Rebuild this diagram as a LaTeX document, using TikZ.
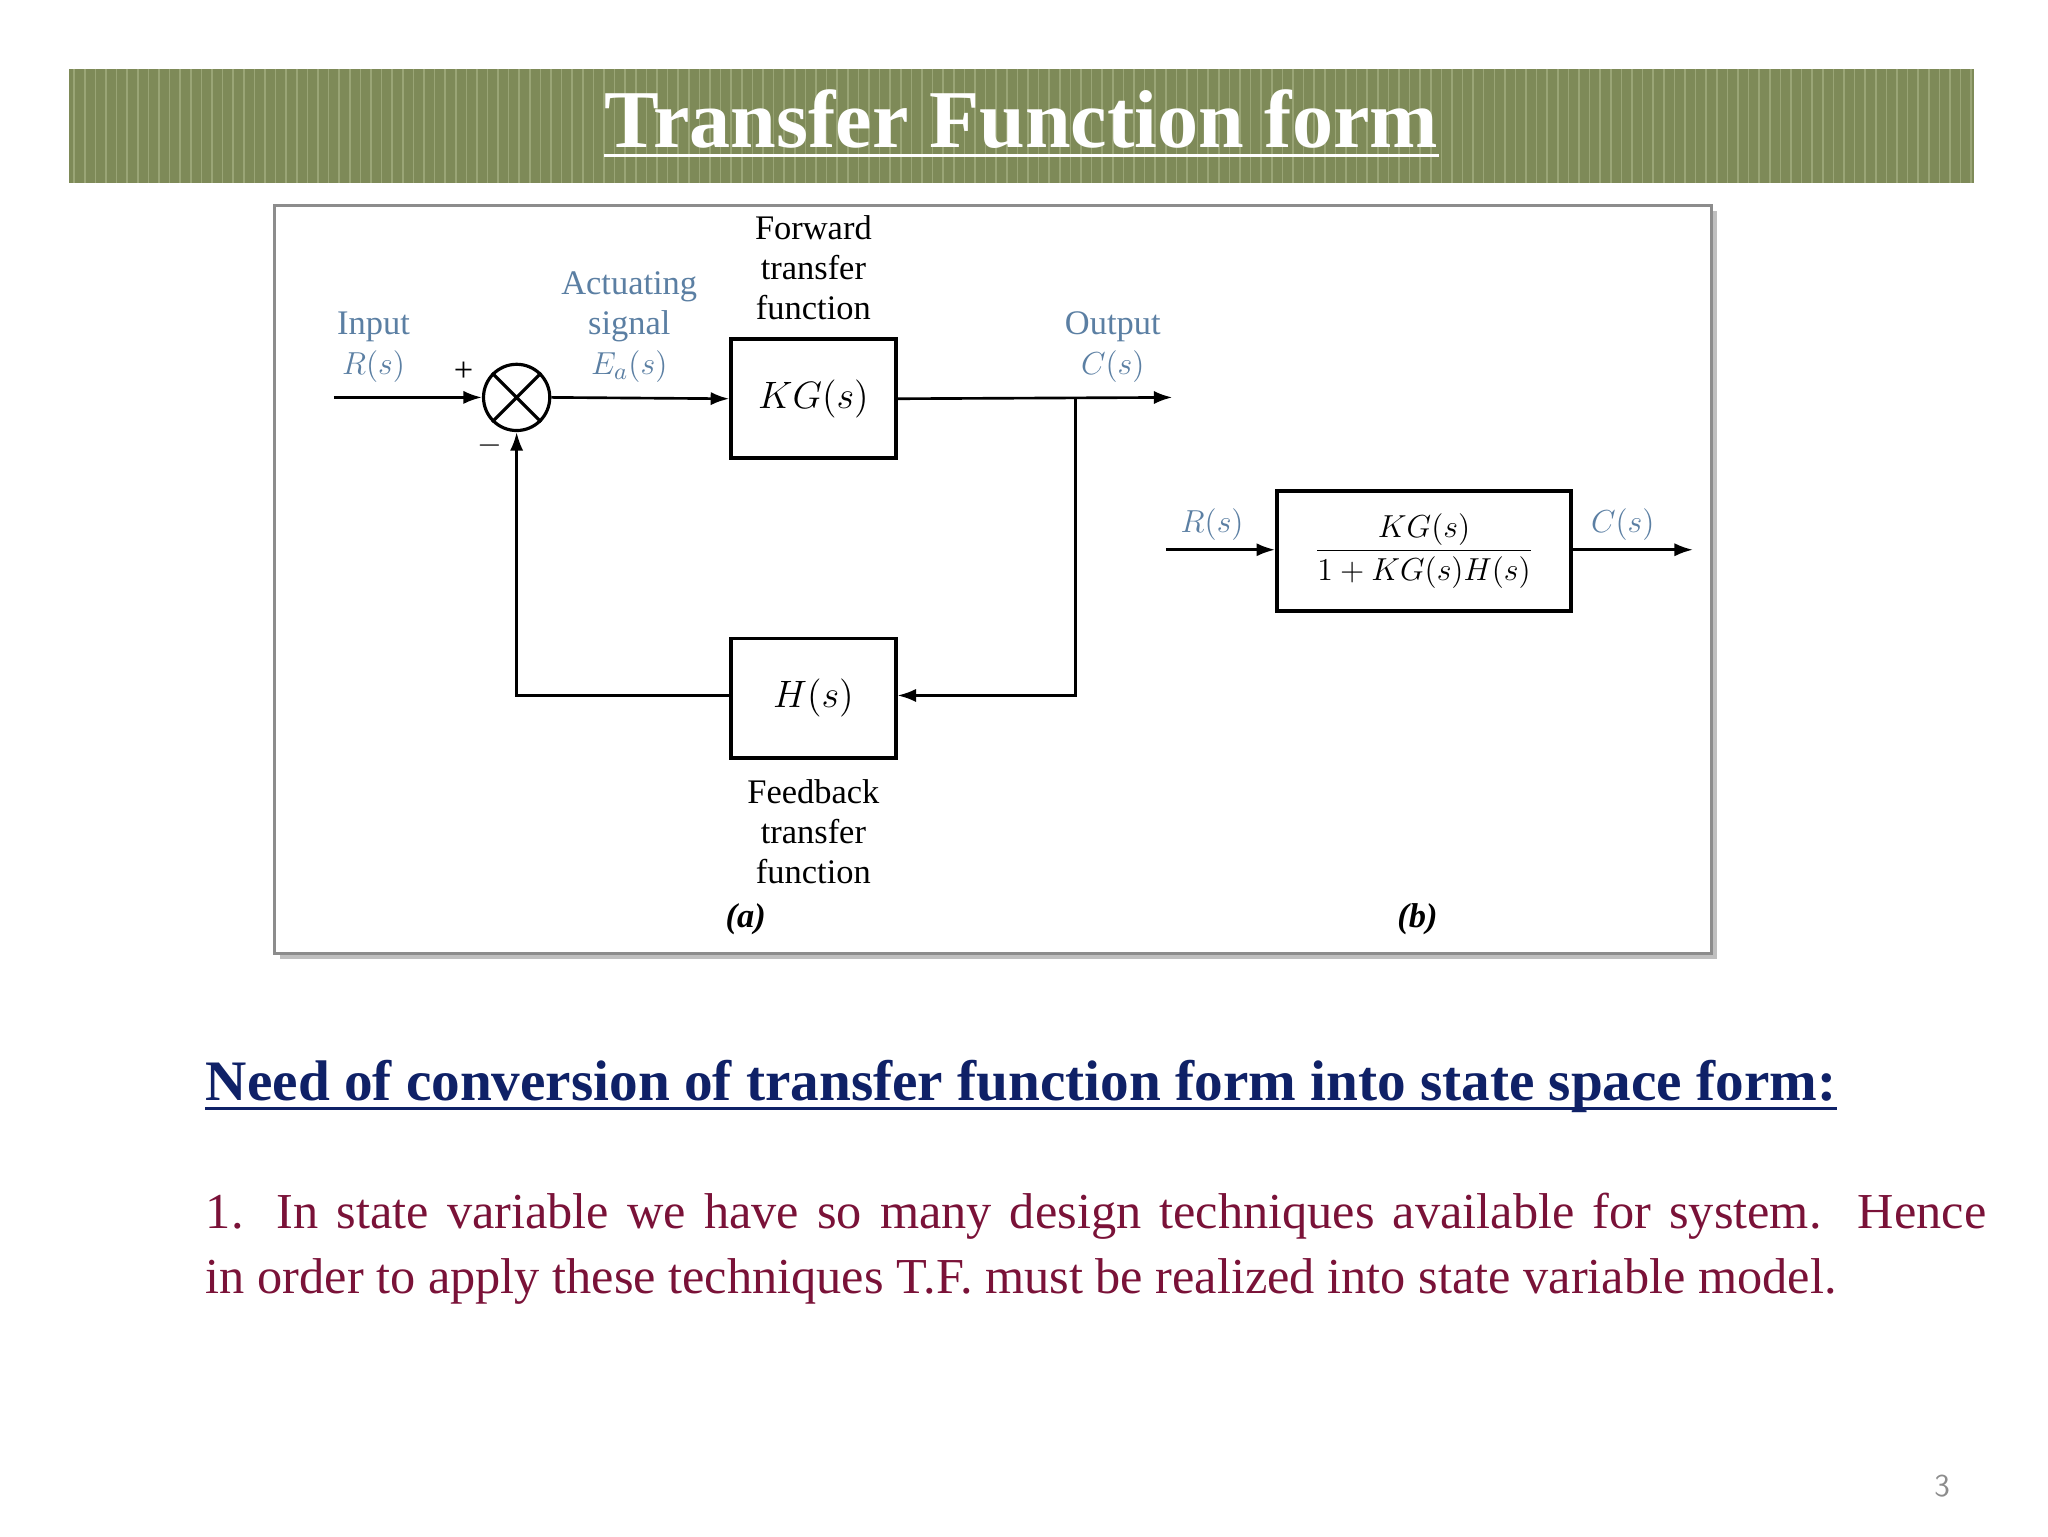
\documentclass[tikz,border=0pt]{standalone}
\usepackage{fontspec}
\setmainfont{Liberation Serif}
\usetikzlibrary{arrows.meta}
\definecolor{olive}{HTML}{7E8A58}
\definecolor{stripe}{HTML}{9AA576}
\definecolor{lbl}{HTML}{5B7FA3}
\definecolor{navy}{HTML}{0F2167}
\definecolor{maroon}{HTML}{7A1238}
\tikzset{
  blk/.style={draw, line width=1.5pt, inner sep=0pt},
  wire/.style={line width=1pt},
  arr/.style={line width=1pt, -{Latex[length=7pt,width=5pt]}},
  lab/.style={font=\fontsize{13}{15}\selectfont, text=lbl, align=center},
  blab/.style={font=\fontsize{13}{15}\selectfont, align=center},
}
\begin{document}
\begin{tikzpicture}[x=0.5pt,y=-0.5pt]
\useasboundingbox (0,0) rectangle (1546,1160);
% banner
\fill[olive] (52,52) rectangle (1490,138);
\foreach \i in {0,...,179} {\draw[stripe, line width=0.6pt] (56+8*\i,52) -- (56+8*\i,138);}
\node[text=white, font=\fontsize{31}{34}\selectfont\bfseries, inner sep=0pt] (title) at (771,90) {Transfer Function form};
\draw[white, line width=1.2pt] ([yshift=-3pt]title.base west) -- ([yshift=-3pt]title.base east);
% frame
\fill[black!25] (211,159) rectangle (1296,724);
\draw[fill=white, draw=black!45, line width=1pt] (207,155) rectangle (1292,720);
% blocks
\node[blk, minimum width=62pt, minimum height=45pt] (kg) at (614,301) {\fontsize{14}{16}\selectfont$KG(s)$};
\node[blk, minimum width=62pt, minimum height=45pt] (h) at (614,527) {\fontsize{14}{16}\selectfont$H(s)$};
\node[draw, circle, line width=1.2pt, minimum size=25pt, inner sep=0pt] (sum) at (390,300) {};
\draw[line width=1.2pt] (sum.north west) -- (sum.south east) (sum.north east) -- (sum.south west);
\coordinate (in) at (252,300);
\coordinate (out) at (885,300);
\coordinate (br) at (812,300);
\coordinate (brd) at (812,525);
\coordinate (hl) at (390,525);
\draw[arr] (in) -- (sum.west);
\draw[arr] (sum.east) -- (kg.west);
\draw[arr] (kg.east) -- (out);
\draw[arr] (br) -- (brd) -- (h.east |- brd);
\draw[arr] (h.west |- hl) -- (hl) -- (sum.south);
% labels
\node[lab] (il) at (282,262) {Input\\$R(s)$};
\node[lab] (al) at (475,247) {Actuating\\signal\\$E_a(s)$};
\node[lab] (ol) at (840,262) {Output\\$C(s)$};
\node[blab] (fl) at (614,202) {Forward\\transfer\\function};
\node[blab] (bl) at (614,628) {Feedback\\transfer\\function};
\node[blab] (pl) at (350,281) {+};
\node[blab] (ml) at (370,336) {$-$};
\node[blab] (a) at (563,694) {\textbf{\textit{(a)}}};
\node[blab] (b) at (1070,694) {\textbf{\textit{(b)}}};
% (b)
\node[blk, minimum width=111pt, minimum height=45pt] (tf) at (1075,416) {\fontsize{13}{15}\selectfont$\displaystyle\frac{KG(s)}{1+KG(s)H(s)}$};
\coordinate (rin) at (880,415);
\coordinate (cout) at (1278,415);
\draw[arr] (rin) -- (tf.west |- rin);
\draw[arr] (tf.east |- cout) -- (cout);
\node[lab] (rl) at (915,396) {$R(s)$};
\node[lab] (cl) at (1225,396) {$C(s)$};
% text
\node[anchor=west, text=navy, font=\fontsize{21.6}{26}\selectfont\bfseries, inner sep=0pt] (hd) at (155,820) {Need of conversion of transfer function form into state space form:};
\draw[navy, line width=1pt] ([yshift=-3pt]hd.base west) -- ([yshift=-3pt]hd.base east);
\node[anchor=north west, text=maroon, font=\fontsize{19}{24.5}\selectfont, text width=672pt, align=justify, inner sep=0pt] (body) at (155,900) {1. In state variable we have so many design techniques available for system.\ \ Hence\linebreak in order to apply these techniques T.F. must be realized into state variable model.};
\node[text=black!45, font=\fontsize{12}{14}\selectfont\sffamily] (pg) at (1466,1122) {3};
\end{tikzpicture}
\end{document}
